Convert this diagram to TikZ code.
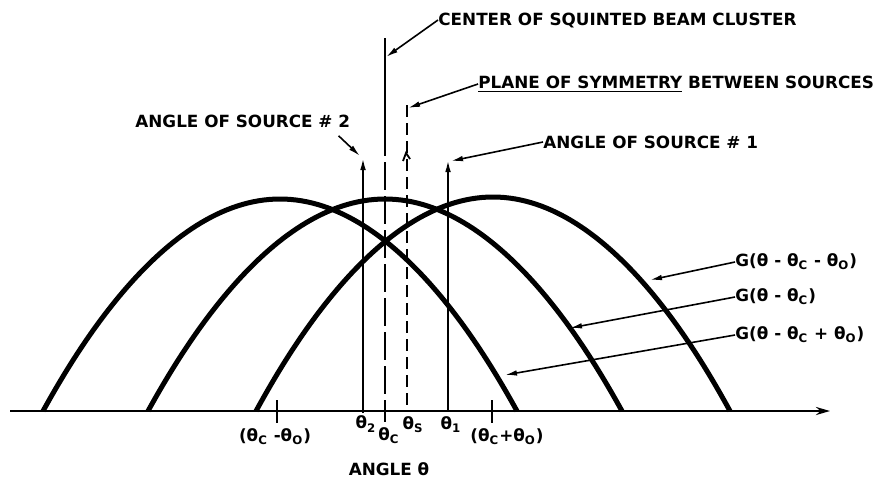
\documentclass[tikz,border=0pt]{standalone}
\usepackage{fontspec}
\setmainfont{DejaVu Sans}
\usepackage{tikz}
\usetikzlibrary{arrows.meta,calc}
\newcommand{\thsub}[1]{θ\textsubscript{#1}}

\begin{document}
\begin{tikzpicture}[x=0.5pt, y=-0.5pt, >={Latex[length=6pt,width=2.8pt]},
    beam/.style={line width=2.5pt},
    guide/.style={line width=0.9pt},
    leader/.style={line width=0.8pt, ->},
    lbl/.style={font=\bfseries\fontsize{8.4}{10}\selectfont, inner sep=0pt}]
    \useasboundingbox (0,0) rectangle (881,477);
    % Angle axis
    \coordinate (ax0) at (10,411);
    \coordinate (ax1) at (830,411);
    \draw[line width=1.2pt, -{Stealth[length=7pt,width=4pt]}] (ax0) -- (ax1);
    % Squinted beams
    \draw[beam] (43,411) parabola bend (280,199) (517,411);
    \draw[beam] (148,411) parabola bend (385,199) (622,411);
    \draw[beam] (256,411) parabola bend (493,197) (730,411);
    % Vertical markers
    \coordinate (th2) at (363,413);
    \coordinate (th2top) at (363,158);
    \coordinate (th1) at (448,411);
    \coordinate (th1top) at (448,160);
    \coordinate (thc) at (385,422);
    \coordinate (thcmid) at (385,128);
    \coordinate (thctop) at (385,38);
    \coordinate (ths) at (407,411);
    \coordinate (thstop) at (407,105);
    \draw[guide, ->] (th2) -- (th2top);
    \draw[guide, ->] (th1) -- (th1top);
    \draw[guide] (thctop) -- (thcmid);
    \draw[guide, dash pattern=on 14pt off 3pt] (thcmid) -- (thc);
    \draw[guide, dash pattern=on 6pt off 3pt] (thstop) -- (ths);
    \draw[guide] (403,161) -- (406,153) -- (410,159);
    % Ticks
    \coordinate (tkm) at (277,400);
    \coordinate (tkp) at (492,400);
    \draw[guide] (tkm) -- ++(0,23);
    \draw[guide] (tkp) -- ++(0,23);
    % Labels and leaders
    \node[lbl, anchor=west] (cbc) at (438,20) {CENTER OF SQUINTED BEAM CLUSTER};
    \node[lbl, anchor=west] (pos) at (478,84) {\underline{PLANE OF SYMMETRY} BETWEEN SOURCES};
    \node[lbl, anchor=west] (src2) at (135,121) {ANGLE OF SOURCE \# 2};
    \node[lbl, anchor=west] (src1) at (543,142) {ANGLE OF SOURCE \# 1};
    \coordinate (cbctip) at (386,57);
    \coordinate (postip) at (408,108);
    \coordinate (src2tip) at (360,156);
    \coordinate (src1tip) at (451,161);
    \draw[leader] (cbc.west) -- (cbctip);
    \draw[leader] (pos.west) -- (postip);
    \draw[leader] ($(src2.south east)+(-12,8)$) -- (src2tip);
    \draw[leader] (src1.west) -- (src1tip);
    \node[lbl, anchor=west] (gp) at (735,262) {G(θ - \thsub{C} - \thsub{O})};
    \node[lbl, anchor=west] (gc) at (735,297) {G(θ - \thsub{C})};
    \node[lbl, anchor=west] (gm) at (735,335) {G(θ - \thsub{C} + \thsub{O})};
    \coordinate (gptip) at (650,280);
    \coordinate (gctip) at (570,328);
    \coordinate (gmtip) at (505,375);
    \draw[leader] (gp.west) -- (gptip);
    \draw[leader] (gc.west) -- (gctip);
    \draw[leader] (gm.west) -- (gmtip);
    % Axis labels
    \node[lbl] (l2) at (366,424) {\thsub{2}};
    \node[lbl] (lc) at (389,436) {\thsub{C}};
    \node[lbl] (ls) at (413,425) {\thsub{S}};
    \node[lbl] (l1) at (451,425) {\thsub{1}};
    \node[lbl] (lm) at (275,437) {(\thsub{C} -\thsub{O})};
    \node[lbl] (lp) at (507,437) {(\thsub{C}+\thsub{O})};
    \node[lbl] (ang) at (389,469) {ANGLE θ};
\end{tikzpicture}
\end{document}
